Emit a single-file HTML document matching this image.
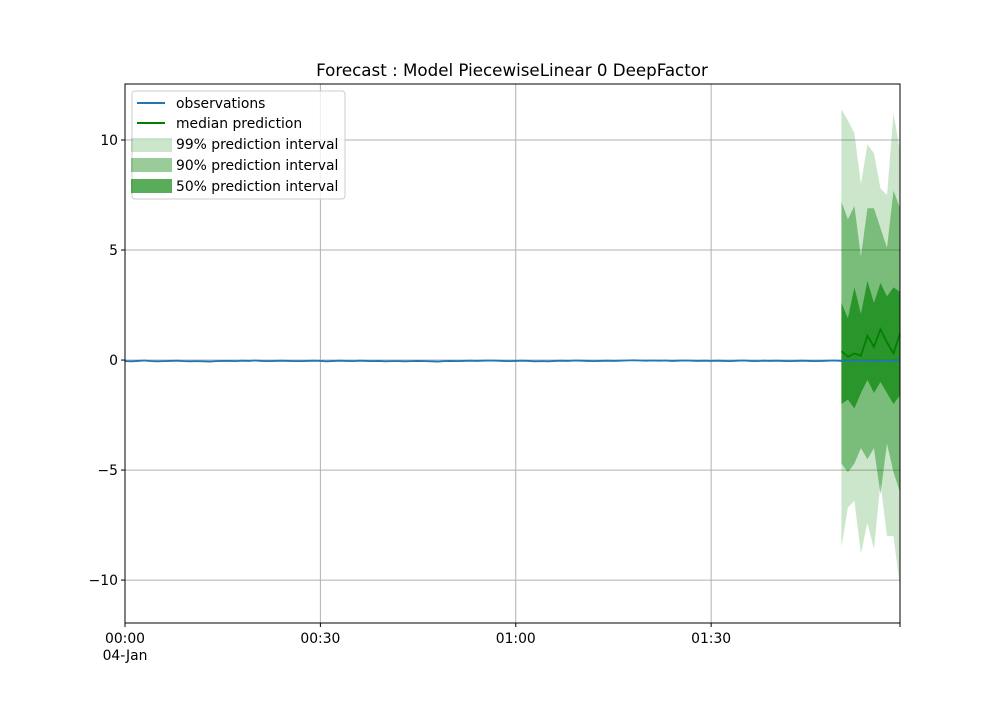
<!DOCTYPE html>
<html><head><meta charset="utf-8"><style>
body{margin:0;background:#fff;font-family:"Liberation Sans","DejaVu Sans",sans-serif;}
svg text{font-family:"DejaVu Sans","Liberation Sans",sans-serif;}
</style></head><body>
<svg id="chart" width="1000" height="700" xmlns="http://www.w3.org/2000/svg">
<rect width="1000" height="700" fill="#fff"/>
<text x="512" y="76" font-size="16.7" text-anchor="middle">Forecast : Model PiecewiseLinear 0 DeepFactor</text>
<g id="grid"></g>
<g id="marks"></g>
<rect x="125" y="84" width="775" height="539" fill="none" stroke="#000" stroke-width="1"/>
<g id="ticks"></g>
<g>
<rect x="132" y="91" width="213" height="108" rx="3" fill="#fff" fill-opacity="0.8" stroke="#ccc"/>
<line x1="137" y1="103" x2="165" y2="103" stroke="#1f77b4" stroke-width="2"/>
<text x="176" y="108" font-size="13.9">observations</text>
<line x1="137" y1="123" x2="165" y2="123" stroke="#008000" stroke-width="2"/>
<text x="176" y="128" font-size="13.9">median prediction</text>
<rect x="131" y="138" width="41" height="14" fill="#008000" fill-opacity="0.2"/>
<text x="176" y="149" font-size="13.9">99% prediction interval</text>
<rect x="131" y="158" width="41" height="14" fill="#008000" fill-opacity="0.4"/>
<text x="176" y="170" font-size="13.9">90% prediction interval</text>
<rect x="131" y="179" width="41" height="14" fill="#008000" fill-opacity="0.65"/>
<text x="176" y="191" font-size="13.9">50% prediction interval</text>
</g>
</svg>
<script>
const obs = [-0.05,-0.06,-0.04,-0.02,-0.05,-0.06,-0.05,-0.04,-0.03,-0.05,-0.06,-0.05,-0.06,-0.07,-0.05,-0.04,-0.04,-0.05,-0.03,-0.04,-0.02,-0.04,-0.05,-0.04,-0.03,-0.04,-0.05,-0.05,-0.04,-0.03,-0.04,-0.06,-0.04,-0.03,-0.04,-0.05,-0.03,-0.04,-0.05,-0.04,-0.06,-0.05,-0.05,-0.06,-0.05,-0.04,-0.05,-0.06,-0.07,-0.05,-0.04,-0.05,-0.04,-0.03,-0.04,-0.03,-0.02,-0.03,-0.04,-0.05,-0.04,-0.03,-0.04,-0.06,-0.05,-0.06,-0.04,-0.03,-0.04,-0.02,-0.03,-0.04,-0.05,-0.04,-0.03,-0.04,-0.03,-0.02,-0.01,-0.02,-0.03,-0.02,-0.03,-0.02,-0.04,-0.03,-0.02,-0.03,-0.04,-0.03,-0.04,-0.03,-0.04,-0.05,-0.03,-0.02,-0.04,-0.05,-0.03,-0.04,-0.03,-0.04,-0.05,-0.04,-0.03,-0.04,-0.05,-0.04,-0.03,-0.02,-0.04,-0.05,-0.04,-0.03,-0.04,-0.05,-0.04,-0.03,-0.04,-0.05];
const fcStart = 110;
const median = [0.4,0.15,0.3,0.2,1.1,0.6,1.4,0.8,0.3,1.2];
const up50 = [2.6,1.9,3.3,2.1,3.6,2.6,3.5,2.9,3.3,3.1];
const lo50 = [-2.0,-1.8,-2.2,-1.5,-0.9,-1.5,-1.0,-1.5,-2.0,-1.6];
const up90 = [7.2,6.4,7.0,4.7,6.9,6.9,6.0,5.1,7.7,6.9];
const lo90 = [-4.7,-5.1,-4.7,-4.0,-4.5,-4.0,-6.1,-3.8,-5.1,-6.0];
const up99 = [11.4,10.9,10.3,8.0,9.8,9.4,7.8,7.5,11.2,9.5];
const lo99 = [-8.5,-6.7,-6.4,-8.8,-7.4,-8.6,-5.6,-8.0,-8.0,-10.3];
const yTicks = [-10,-5,0,5,10];
const yTickLabels = ["\u221210","\u22125","0","5","10"];
const xTicks = [0,30,60,90,119];
const xTickLabels = ["00:00","00:30","01:00","01:30",""];

const X0=125,X1=900,Y0=84,Y1=623, xMin=0,xMax=119,yMin=-11.95,yMax=12.545;
const sx=v=>X0+(v-xMin)/(xMax-xMin)*(X1-X0);
const sy=v=>Y1-(v-yMin)/(yMax-yMin)*(Y1-Y0);
const NS="http://www.w3.org/2000/svg";
const mk=(t,a,p)=>{const e=document.createElementNS(NS,t);for(const k in a)e.setAttribute(k,a[k]);p.appendChild(e);return e;};
const grid=document.getElementById('grid'),marks=document.getElementById('marks'),ticks=document.getElementById('ticks');
yTicks.forEach((v,i)=>{
  const g=mk('line',{x1:X0,x2:X1,y1:sy(v),y2:sy(v),stroke:'#b0b0b0','stroke-width':1},grid);
  
  
  mk('line',{x1:X0-4,x2:X0,y1:sy(v),y2:sy(v),stroke:'#000'},ticks);
  const t=mk('text',{x:X0-7,y:sy(v)+5,'font-size':13.9,'text-anchor':'end'},ticks);
  t.textContent=yTickLabels[i];
  
  
});
xTicks.forEach((v,i)=>{
  const x=Math.min(sx(v),X1);
  if(i<xTicks.length-1){
    const g=mk('line',{x1:x,x2:x,y1:Y0,y2:Y1,stroke:'#b0b0b0','stroke-width':1},grid);
    
    
  }
  mk('line',{x1:x,x2:x,y1:Y1,y2:Y1+4,stroke:'#000'},ticks);
  const t=mk('text',{x:x,y:Y1+20,'font-size':13.9,'text-anchor':'middle'},ticks);
  t.textContent=xTickLabels[i];
  
  
});
const dt=mk('text',{x:X0,y:Y1+37,'font-size':13.9,'text-anchor':'middle'},ticks);
dt.textContent='04-Jan';



function band(up,lo,op,name){
  let d='';
  up.forEach((v,i)=>{d+=(i?'L':'M')+sx(fcStart+i)+','+sy(v);});
  for(let i=lo.length-1;i>=0;i--)d+='L'+sx(fcStart+i)+','+sy(lo[i]);
  const p=mk('path',{d:d+'Z',fill:'#008000','fill-opacity':op},marks);
  
  
}
band(up99,lo99,0.2,'band-99');
band(up90,lo90,0.4,'band-90');
band(up50,lo50,0.65,'band-50');
const ol=mk('polyline',{points:obs.map((v,i)=>sx(i)+','+sy(v)).join(' '),fill:'none',stroke:'#1f77b4','stroke-width':1.8},marks);


const ml=mk('polyline',{points:median.map((v,i)=>sx(fcStart+i)+','+sy(v)).join(' '),fill:'none',stroke:'#008000','stroke-width':1.8},marks);


</script>
</body></html>
